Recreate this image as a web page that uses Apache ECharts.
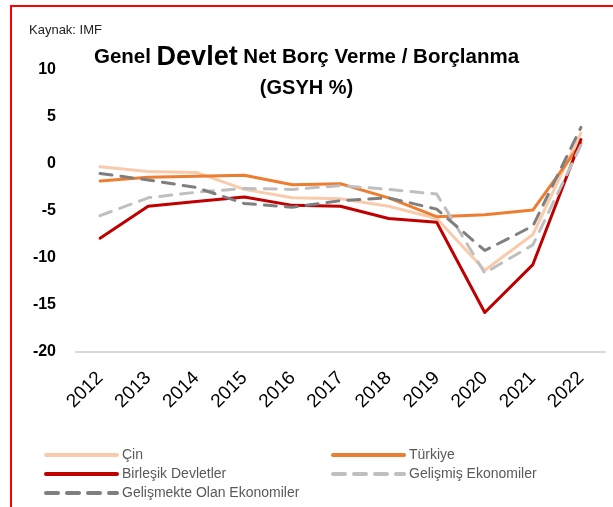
<!DOCTYPE html>
<html>
<head>
<meta charset="utf-8">
<style>
  html, body { margin: 0; padding: 0; background: #fff; }
  #chart { width: 613px; height: 507px; }
</style>
<script src="https://cdn.jsdelivr.net/npm/echarts@6/dist/echarts.min.js"></script>
</head>
<body>
<div id="chart"></div>
<script>
// Genel devlet net borç verme / borçlanma, GSYH'ye oran (%)
const years = ['2012', '2013', '2014', '2015', '2016', '2017', '2018', '2019', '2020', '2021', '2022'];
const cin        = [-0.3, -0.8, -0.9, -2.7, -3.6, -3.7, -4.5, -5.8, -11.3, -7.5, 3.3];
const turkiye    = [-1.8, -1.4, -1.3, -1.2, -2.2, -2.1, -3.6, -5.6, -5.4, -4.9, 2.2];
const abd        = [-7.9, -4.5, -4.0, -3.5, -4.4, -4.5, -5.8, -6.2, -15.8, -10.7, 2.6];
const gelismis   = [-5.5, -3.6, -3.0, -2.6, -2.7, -2.3, -2.7, -3.2, -11.6, -8.6, 2.0];
const gelismekte = [-1.0, -1.7, -2.5, -4.2, -4.6, -3.9, -3.6, -4.8, -9.2, -6.6, 3.9];

const FONT = '"Liberation Sans", "DejaVu Sans", sans-serif';

function lineSeries(name, data, color, dashed) {
  return {
    name: name,
    type: 'line',
    data: data,
    symbol: 'none',
    smooth: false,
    lineStyle: {
      color: color,
      width: 3,
      type: dashed ? [12, 9] : 'solid',
      cap: 'round',
      join: 'round'
    },
    itemStyle: { color: color }
  };
}

function legendBlock(left, names) {
  return {
    orient: 'vertical',
    left: left,
    top: 448,
    height: 60,
    padding: 0,
    itemWidth: 71,
    itemHeight: 14,
    itemGap: 5,
    itemStyle: { opacity: 0 },
    lineStyle: { width: 4, cap: 'round' },
    data: names,
    textStyle: { fontFamily: FONT, fontSize: 14, color: '#595959' }
  };
}

const chart = echarts.init(document.getElementById('chart'), null, { renderer: 'canvas' });

chart.setOption({
  backgroundColor: '#ffffff',
  animation: false,
  title: [
    {
      text: '{a|Genel }{b|Devlet}{a| Net Borç Verme / Borçlanma}',
      left: 'center',
      top: 39,
      textStyle: {
        rich: {
          a: { fontFamily: FONT, fontWeight: 'bold', fontSize: 20.5, color: '#000' },
          b: { fontFamily: FONT, fontWeight: 'bold', fontSize: 27, color: '#000' }
        }
      }
    },
    {
      text: '(GSYH %)',
      left: 'center',
      top: 73,
      textStyle: { fontFamily: FONT, fontWeight: 'bold', fontSize: 20, color: '#000' }
    },
    {
      text: 'Kaynak: IMF',
      left: 24,
      top: 19,
      textStyle: { fontFamily: FONT, fontWeight: 'normal', fontSize: 13, color: '#222' }
    }
  ],
  grid: { left: 76, right: 8, top: 70, bottom: 155, containLabel: false },
  xAxis: {
    type: 'category',
    data: years,
    boundaryGap: true,
    axisLine: { show: true, onZero: false, lineStyle: { color: '#D9D9D9', width: 2 } },
    axisTick: { show: false },
    axisLabel: {
      rotate: 45,
      margin: 23,
      fontFamily: FONT,
      fontSize: 19,
      color: '#000',
      interval: 0
    }
  },
  yAxis: {
    type: 'value',
    min: -20,
    max: 10,
    interval: 5,
    axisLine: { show: false },
    axisTick: { show: false },
    splitLine: { show: false },
    axisLabel: {
      margin: 20,
      fontFamily: FONT,
      fontWeight: 'bold',
      fontSize: 16,
      color: '#000'
    }
  },
  legend: [
    legendBlock(44, ['Çin', 'Birleşik Devletler', 'Gelişmekte Olan Ekonomiler']),
    legendBlock(331, ['Türkiye', 'Gelişmiş Ekonomiler'])
  ],
  series: [
    lineSeries('Çin', cin, '#F8CBAD', false),
    lineSeries('Türkiye', turkiye, '#ED7D31', false),
    lineSeries('Birleşik Devletler', abd, '#C00000', false),
    lineSeries('Gelişmiş Ekonomiler', gelismis, '#BFBFBF', true),
    lineSeries('Gelişmekte Olan Ekonomiler', gelismekte, '#7F7F7F', true)
  ],
  graphic: [
    {
      type: 'rect',
      shape: { x: 11, y: 6, width: 640, height: 560 },
      style: { fill: 'none', stroke: '#FF0000', lineWidth: 2 },
      silent: true
    }
  ]
});
</script>
</body>
</html>
